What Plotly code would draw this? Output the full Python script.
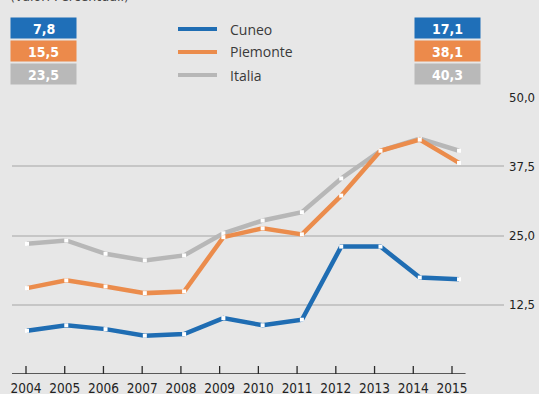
import plotly.graph_objects as go

# Series values (percent), 2004-2015
years = [2004, 2005, 2006, 2007, 2008, 2009, 2010, 2011, 2012, 2013, 2014, 2015]
cuneo = [7.8, 8.8, 8.1, 6.9, 7.2, 10.1, 8.8, 9.8, 23.0, 23.0, 17.4, 17.1]
piemonte = [15.5, 16.9, 15.8, 14.6, 14.9, 24.7, 26.3, 25.2, 32.2, 40.3, 42.3, 38.1]
italia = [23.5, 24.1, 21.7, 20.5, 21.4, 25.4, 27.7, 29.2, 35.3, 40.3, 42.5, 40.3]
series_names = ["Cuneo", "Piemonte", "Italia"]
y_ticks = [12.5, 25.0, 37.5, 50.0]

colors = {"Cuneo": "#1f6db3", "Piemonte": "#eb8c4c", "Italia": "#b7b7b7"}
box_colors = {"Cuneo": "#1f6fb8", "Piemonte": "#ec8a4b", "Italia": "#b9b9b9"}
data = {"Cuneo": cuneo, "Piemonte": piemonte, "Italia": italia}

W, H = 539, 394
L, R, T, B = 12, 504, 97, 374   # plot-area edges in pixels


def px_x(p):
    return (p - L) / (R - L)


def px_y(p):
    return (B - p) / (B - T)


def fmt(v):
    return f"{v:.1f}".replace(".", ",")


fig = go.Figure()

for name in ["Italia", "Piemonte", "Cuneo"]:
    fig.add_trace(go.Scatter(
        x=years, y=data[name], mode="lines+markers", name=name,
        line=dict(color=colors[name], width=4.5),
        marker=dict(color="white", size=4, symbol="square"),
        showlegend=False, xaxis="x", yaxis="y",
    ))

# tick-label axis (years) sharing the plot area
fig.add_trace(go.Scatter(x=[years[0]], y=[None], xaxis="x2", yaxis="y",
                         showlegend=False, hoverinfo="skip"))

shapes = []
annotations = []

# baseline axis line with upward ticks
x2_lo, x2_hi = 2004 - 14 / 38.73, 2015 + 52 / 38.73
shapes.append(dict(type="line", xref="x2", yref="y", x0=x2_lo, x1=2015.35,
                   y0=0, y1=0, line=dict(color="#2a2a2a", width=1.5)))
for yr in years:
    shapes.append(dict(type="line", xref="x2", yref="paper", x0=yr, x1=yr,
                       y0=0, y1=px_y(B - 8), line=dict(color="#2a2a2a", width=1.3)))

# legend: coloured lines and labels
leg_y = [29, 52, 75]
for name, yy in zip(series_names, leg_y):
    shapes.append(dict(type="line", xref="paper", yref="paper",
                       x0=px_x(178), x1=px_x(217), y0=px_y(yy), y1=px_y(yy),
                       line=dict(color=colors[name], width=4)))
    annotations.append(dict(xref="paper", yref="paper", x=px_x(228), y=px_y(yy),
                            xanchor="left", yanchor="middle", text=name, showarrow=False,
                            font=dict(family="Open Sans", size=14, color="#3a3a3a")))

# value boxes: first and last year
box_y = [28, 51, 74]
for name, yy in zip(series_names, box_y):
    for cx, val in [(43.5, data[name][0]), (447.5, data[name][-1])]:
        shapes.append(dict(type="rect", xref="paper", yref="paper",
                           x0=px_x(cx - 33), x1=px_x(cx + 33),
                           y0=px_y(yy + 10.5), y1=px_y(yy - 10.5),
                           fillcolor=box_colors[name], line=dict(width=0)))
        annotations.append(dict(xref="paper", yref="paper", x=px_x(cx), y=px_y(yy + 1),
                                xanchor="center", yanchor="middle", text=f"<b>{fmt(val)}</b>",
                                showarrow=False,
                                font=dict(family="DejaVu Sans Condensed", size=14, color="white")))

# subtitle, partly off the top edge
annotations.append(dict(xref="paper", yref="paper", x=px_x(8), y=px_y(6),
                        xanchor="left", yanchor="bottom", text="(valori Percentuali)",
                        showarrow=False,
                        font=dict(family="DejaVu Sans Condensed", size=14, color="#444")))

fig.update_layout(
    width=W, height=H,
    margin=dict(l=L, r=W - R, t=T, b=H - B, autoexpand=False),
    paper_bgcolor="#e7e7e7", plot_bgcolor="#e7e7e7",
    shapes=shapes, annotations=annotations,
    xaxis=dict(range=[2004 - 15 / 39.3, 2015 + 45 / 39.3], showticklabels=False,
               showgrid=False, zeroline=False, showline=False, ticks=""),
    xaxis2=dict(range=[x2_lo, x2_hi], overlaying="x", anchor="y",
                tickmode="array", tickvals=years, ticktext=[str(y) for y in years],
                showgrid=False, zeroline=False, showline=False, ticks="",
                ticklabelstandoff=4,
                tickfont=dict(family="DejaVu Sans Condensed", size=13.5, color="#222"),
                side="bottom"),
    yaxis=dict(range=[0, 50], side="right", tickmode="array", tickvals=y_ticks,
               ticktext=[fmt(v) for v in y_ticks], showgrid=True,
               gridcolor="#c6c6c6", gridwidth=1.5, zeroline=False, showline=False,
               ticks="", ticklabelstandoff=4,
               tickfont=dict(family="DejaVu Sans Condensed", size=13, color="#222")),
    showlegend=False,
)

fig.write_html("out.html")
